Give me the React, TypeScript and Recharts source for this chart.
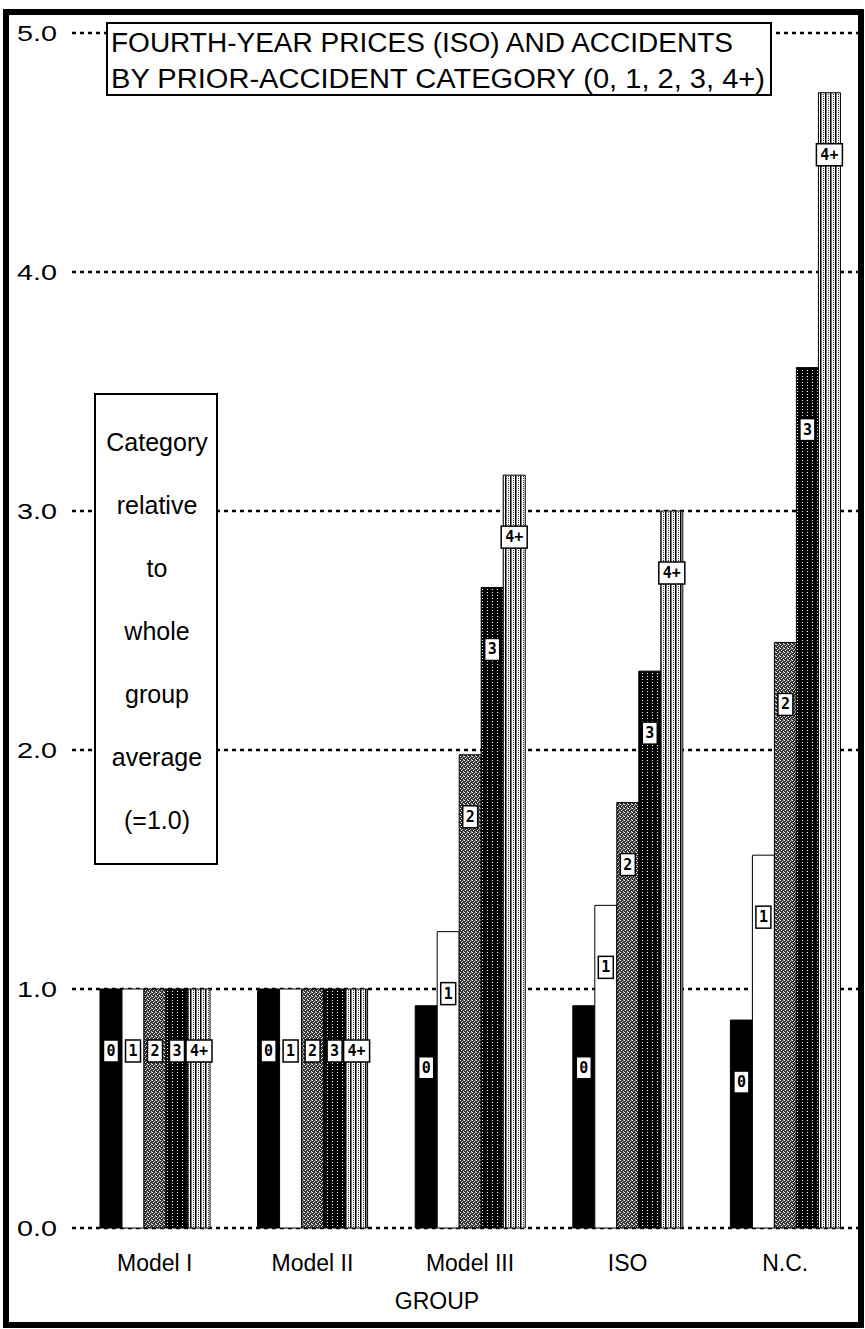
import { BarChart, Bar, XAxis, YAxis, CartesianGrid, LabelList } from "recharts";

const groups = ["Model I", "Model II", "Model III", "ISO", "N.C."];
const categories = ["0", "1", "2", "3", "4+"];
const cat0 = [1.0, 1.0, 0.93, 0.93, 0.87];
const cat1 = [1.0, 1.0, 1.24, 1.35, 1.56];
const cat2 = [1.0, 1.0, 1.98, 1.78, 2.45];
const cat3 = [1.0, 1.0, 2.68, 2.33, 3.6];
const cat4 = [1.0, 1.0, 3.15, 3.0, 4.75];
const yTicks = [0, 1, 2, 3, 4, 5];
const noteLines = ["Category", "relative", "to", "whole", "group", "average", "(=1.0)"];

const series = [cat0, cat1, cat2, cat3, cat4];
const fills = ["#000", "#fff", "url(#pat2)", "url(#pat3)", "url(#pat4)"];

const data = groups.map((g, i) => {
  const row: Record<string, string | number> = { group: g };
  series.forEach((s, k) => (row[`c${k}`] = s[i]));
  return row;
});

const SANS = "'Liberation Sans', Arial, sans-serif";

// white tag with the category name, ~62px under the top of each bar
function CatTag(label: string) {
  return (p: any) => {
    const cx = p.x + p.width / 2;
    const cy = p.y + 62;
    const w = label.length > 1 ? 26 : 15;
    return (
      <g>
        <rect x={cx - w / 2} y={cy - 11} width={w} height={22} fill="#fff" stroke="#000" strokeWidth={1.5} />
        <text x={cx} y={cy + 5} textAnchor="middle" fontFamily="'DejaVu Sans Mono', monospace" fontWeight="bold" fontSize={15} fill="#000">
          {label}
        </text>
      </g>
    );
  };
}

const YTick = (p: any) => (
  <text x={17} y={p.y + 8} fontFamily={SANS} fontSize={22} fill="#000" textLength={40} lengthAdjust="spacingAndGlyphs">
    {Number(p.payload.value).toFixed(1)}
  </text>
);

const XTick = (p: any) => (
  <text x={p.x} y={1271} textAnchor="middle" fontFamily={SANS} fontSize={23} fill="#000">
    {p.payload.value}
  </text>
);

export default function App() {
  return (
    <div style={{ position: "absolute", left: 0, top: 0, width: 865, height: 1329, background: "#fff" }}>
      <svg width={0} height={0} style={{ position: "absolute" }}>
        <defs>
          <pattern id="pat2" width="4" height="4" patternUnits="userSpaceOnUse">
            <rect width="4" height="4" fill="#333" />
            <rect x="0" y="0" width="1" height="1" fill="#fff" />
            <rect x="2" y="1" width="1" height="1" fill="#ccc" />
            <rect x="1" y="2" width="1" height="1" fill="#fff" />
            <rect x="3" y="3" width="1" height="1" fill="#ccc" />
            <rect x="3" y="0" width="1" height="1" fill="#999" />
          </pattern>
          <pattern id="pat3" width="5" height="3" patternUnits="userSpaceOnUse">
            <rect width="5" height="3" fill="#000" />
            <rect x="2" y="1" width="1" height="1" fill="#fff" />
          </pattern>
          <pattern id="pat4" width="5" height="2" patternUnits="userSpaceOnUse">
            <rect width="5" height="2" fill="#fff" />
            <rect x="0" y="0" width="1.5" height="2" fill="#000" />
            <rect x="3" y="0" width="1" height="1" fill="#333" />
          </pattern>
        </defs>
      </svg>
      <BarChart
        width={865}
        height={1329}
        data={data}
        margin={{ top: 33, right: 1, bottom: 0, left: 0 }}
        barGap={0}
        barSize={22}
      >
        <CartesianGrid horizontal vertical={false} stroke="#000" strokeWidth={2.5} strokeDasharray="4 4" />
        <XAxis
          dataKey="group"
          height={101}
          axisLine={false}
          tickLine={false}
          padding={{ left: 4, right: 0 }}
          tick={<XTick />}
          interval={0}
        />
        <YAxis width={72} domain={[0, 5]} ticks={yTicks} axisLine={false} tickLine={false} tick={<YTick />} interval={0} />
        {series.map((_, k) => (
          <Bar key={k} dataKey={`c${k}`} fill={fills[k]} stroke="#000" strokeWidth={1} isAnimationActive={false}>
            <LabelList dataKey={`c${k}`} content={CatTag(categories[k])} />
          </Bar>
        ))}
      </BarChart>
      <svg width={865} height={1329} style={{ position: "absolute", left: 0, top: 0, pointerEvents: "none" }}>
        <rect x={107} y={23} width={664} height={72} fill="#fff" stroke="#000" strokeWidth={2} />
        <text x={111} y={52} fontFamily={SANS} fontSize={27} fill="#000" textLength={622} lengthAdjust="spacingAndGlyphs">
          FOURTH-YEAR PRICES (ISO) AND ACCIDENTS
        </text>
        <text x={111} y={88} fontFamily={SANS} fontSize={27} fill="#000" textLength={654} lengthAdjust="spacingAndGlyphs">
          BY PRIOR-ACCIDENT CATEGORY (0, 1, 2, 3, 4+)
        </text>
        <rect x={95} y={394} width={122} height={470} fill="#fff" stroke="#000" strokeWidth={2} />
        {noteLines.map((t, i) => (
          <text key={t} x={157} y={451 + i * 63} textAnchor="middle" fontFamily={SANS} fontSize={25} fill="#000">
            {t}
          </text>
        ))}
        <text x={437} y={1309} textAnchor="middle" fontFamily={SANS} fontSize={23} fill="#000">
          GROUP
        </text>
        <rect x={6} y={12} width={855} height={1313} fill="none" stroke="#000" strokeWidth={6} />
      </svg>
    </div>
  );
}
